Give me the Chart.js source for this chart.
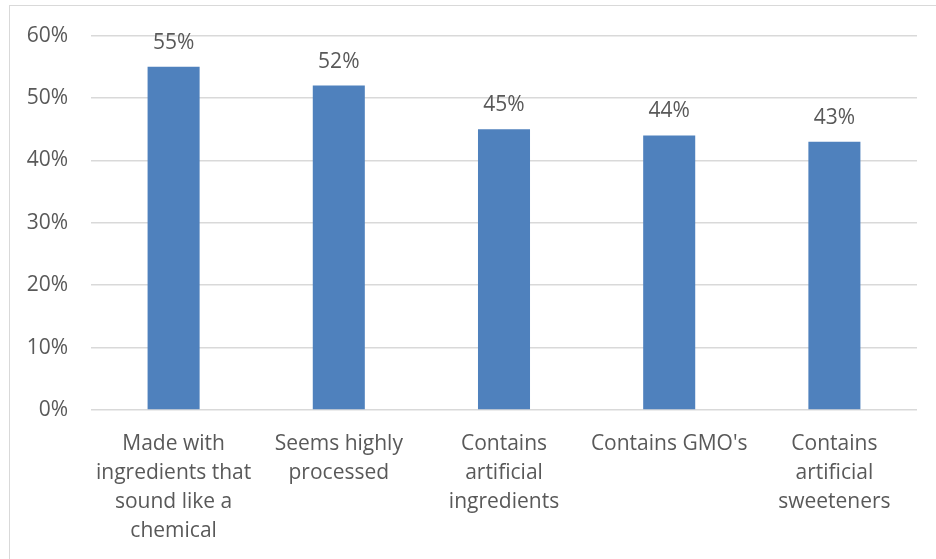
<!DOCTYPE html>
<html>
<head>
<meta charset="utf-8">
<script src="https://cdn.jsdelivr.net/npm/chart.js@4"></script>
<style>
  html, body { margin: 0; padding: 0; background: #fff; }
  #wrap { position: relative; width: 936px; height: 559px; overflow: hidden; }
  #frame { position: absolute; left: 9px; top: 5px; width: 940px; height: 570px;
           border: 1.5px solid #d9d9d9; box-sizing: border-box; }
  canvas { position: absolute; left: 0; top: 0; }
</style>
</head>
<body>
<div id="wrap">
  <div id="frame"></div>
  <canvas id="c" width="936" height="559"></canvas>
</div>
<script>
const categories = [
  ["Made with", "ingredients that", "sound like a", "chemical"],
  ["Seems highly", "processed"],
  ["Contains", "artificial", "ingredients"],
  ["Contains GMO's"],
  ["Contains", "artificial", "sweeteners"]
];
const values = [55, 52, 45, 44, 43];
const yTicks = [0, 10, 20, 30, 40, 50, 60];

const FONT = "'Open Sans', 'Liberation Sans', sans-serif";
const TEXT = '#595959';

// Value labels drawn above each bar
const valueLabels = {
  id: 'valueLabels',
  afterDatasetsDraw(chart) {
    const ctx = chart.ctx;
    const meta = chart.getDatasetMeta(0);
    ctx.save();
    ctx.font = '21px ' + FONT;
    ctx.fillStyle = TEXT;
    ctx.textAlign = 'center';
    ctx.textBaseline = 'middle';
    meta.data.forEach((bar, i) => {
      ctx.fillText(values[i] + '%', bar.x, bar.y - 24);
    });
    ctx.restore();
  }
};

new Chart(document.getElementById('c'), {
  type: 'bar',
  data: {
    labels: categories,
    datasets: [{
      data: values,
      backgroundColor: '#4f81bd',
      borderWidth: 0,
      categoryPercentage: 1,
      barPercentage: 0.315
    }]
  },
  options: {
    responsive: false,
    animation: false,
    layout: { padding: { left: 0, right: 19, top: 35, bottom: 0 } },
    plugins: { legend: { display: false }, tooltip: { enabled: false } },
    scales: {
      y: {
        min: 0, max: 60,
        afterBuildTicks(axis) { axis.ticks = yTicks.map(v => ({ value: v })); },
        afterFit(axis) { axis.width = 91; },
        border: { display: false },
        grid: { color: '#d9d9d9', lineWidth: 1.5, drawTicks: false },
        ticks: {
          padding: 23,
          color: TEXT,
          font: { family: FONT, size: 21 },
          callback: v => v + '%'
        }
      },
      x: {
        afterFit(axis) { axis.height = 149; },
        border: { display: false },
        grid: { display: false, drawTicks: false },
        ticks: {
          padding: 20,
          maxRotation: 0,
          autoSkip: false,
          color: TEXT,
          font: { family: FONT, size: 21, lineHeight: 1.38 }
        }
      }
    }
  },
  plugins: [valueLabels]
});
</script>
</body>
</html>
